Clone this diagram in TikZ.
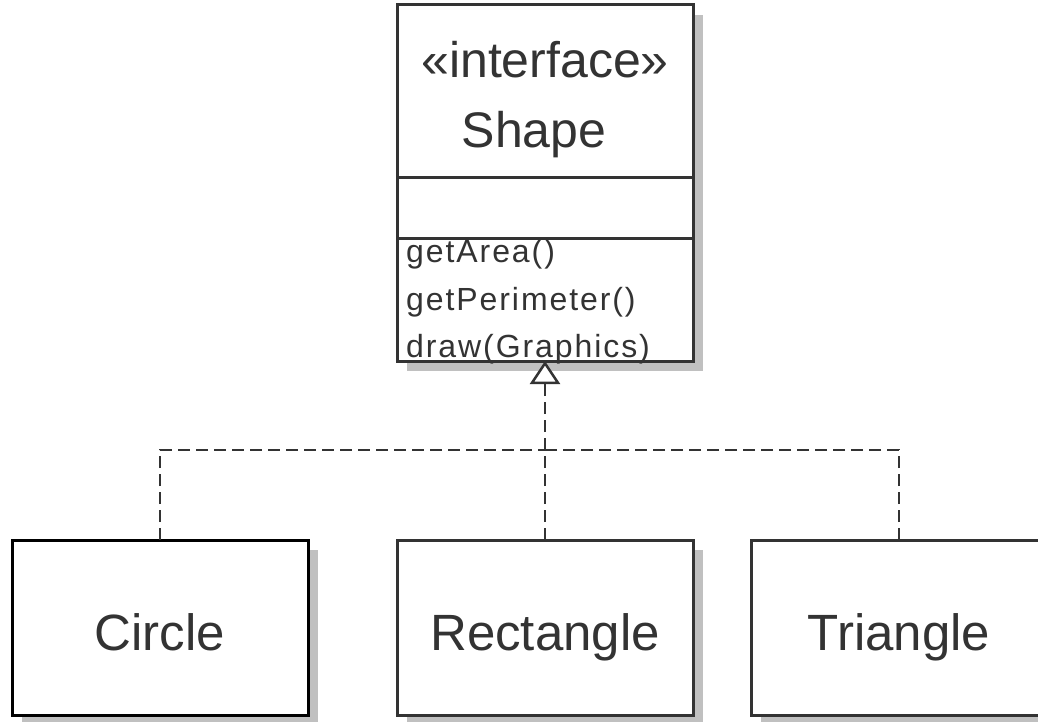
\documentclass[tikz,border=0pt]{standalone}
\usepackage{fontspec}
\setmainfont{Liberation Sans}
\usetikzlibrary{arrows.meta,shadows}
\definecolor{InkGray}{RGB}{51,51,51}
\definecolor{ShadowGray}{RGB}{192,192,192}
\tikzset{
    classbox/.style={draw=InkGray, line width=3pt, fill=white, text=InkGray, minimum width=296pt, inner sep=0pt, outer sep=0pt,
        drop shadow={shadow xshift=10pt, shadow yshift=-10pt, fill=ShadowGray, opacity=1}},
    leafclass/.style={classbox, minimum height=175pt, text height=45pt, text depth=0pt, font=\fontsize{51}{60}\selectfont},
    headtext/.style={text=InkGray, inner sep=0pt, anchor=base, font=\fontsize{50}{58}\selectfont},
    optext/.style={text=InkGray, inner sep=0pt, anchor=base west, font=\fontsize{32}{38}\selectfont\addfontfeature{LetterSpace=6}},
    realize/.style={draw=InkGray, line width=2.5pt, dash pattern=on 12pt off 6pt}
}

\begin{document}
\begin{tikzpicture}[x=1pt, y=-1pt]
    \useasboundingbox (0,0) rectangle (1038,722);

    % interface with its three compartments
    \node[classbox, minimum height=173pt, anchor=north] (shapehead) at (545,5) {};
    \node[classbox, minimum height=60pt, anchor=north] (shapeattrs) at (shapehead.south) {};
    \node[classbox, minimum height=123pt, anchor=north] (shapeops) at (shapeattrs.south) {};

    \node[headtext] (stereo) at (545,78) {«interface»};
    \node[headtext] (shapename) at (534,148) {Shape};

    \node[optext] (opArea) at (406,262) {getArea()};
    \node[optext] (opPerim) at (406,310) {getPerimeter()};
    \node[optext] (opDraw) at (406,357) {draw(Graphics)};

    % implementing classes
    \node[leafclass, draw=black] (circleclass) at (160,627.5) {Circle};
    \node[leafclass] (rectclass) at (545,627.5) {Rectangle};
    \node[leafclass] (triangleclass) at (899,627.5) {Triangle};

    \coordinate (joint) at (545,450);
    \draw[realize] (circleclass.north) |- (joint);
    \draw[realize] (triangleclass.north) |- (joint);
    \draw[realize, -{Triangle[length=23pt, width=30pt, fill=white]}] (rectclass.north) -- (shapeops.south);
\end{tikzpicture}
\end{document}
